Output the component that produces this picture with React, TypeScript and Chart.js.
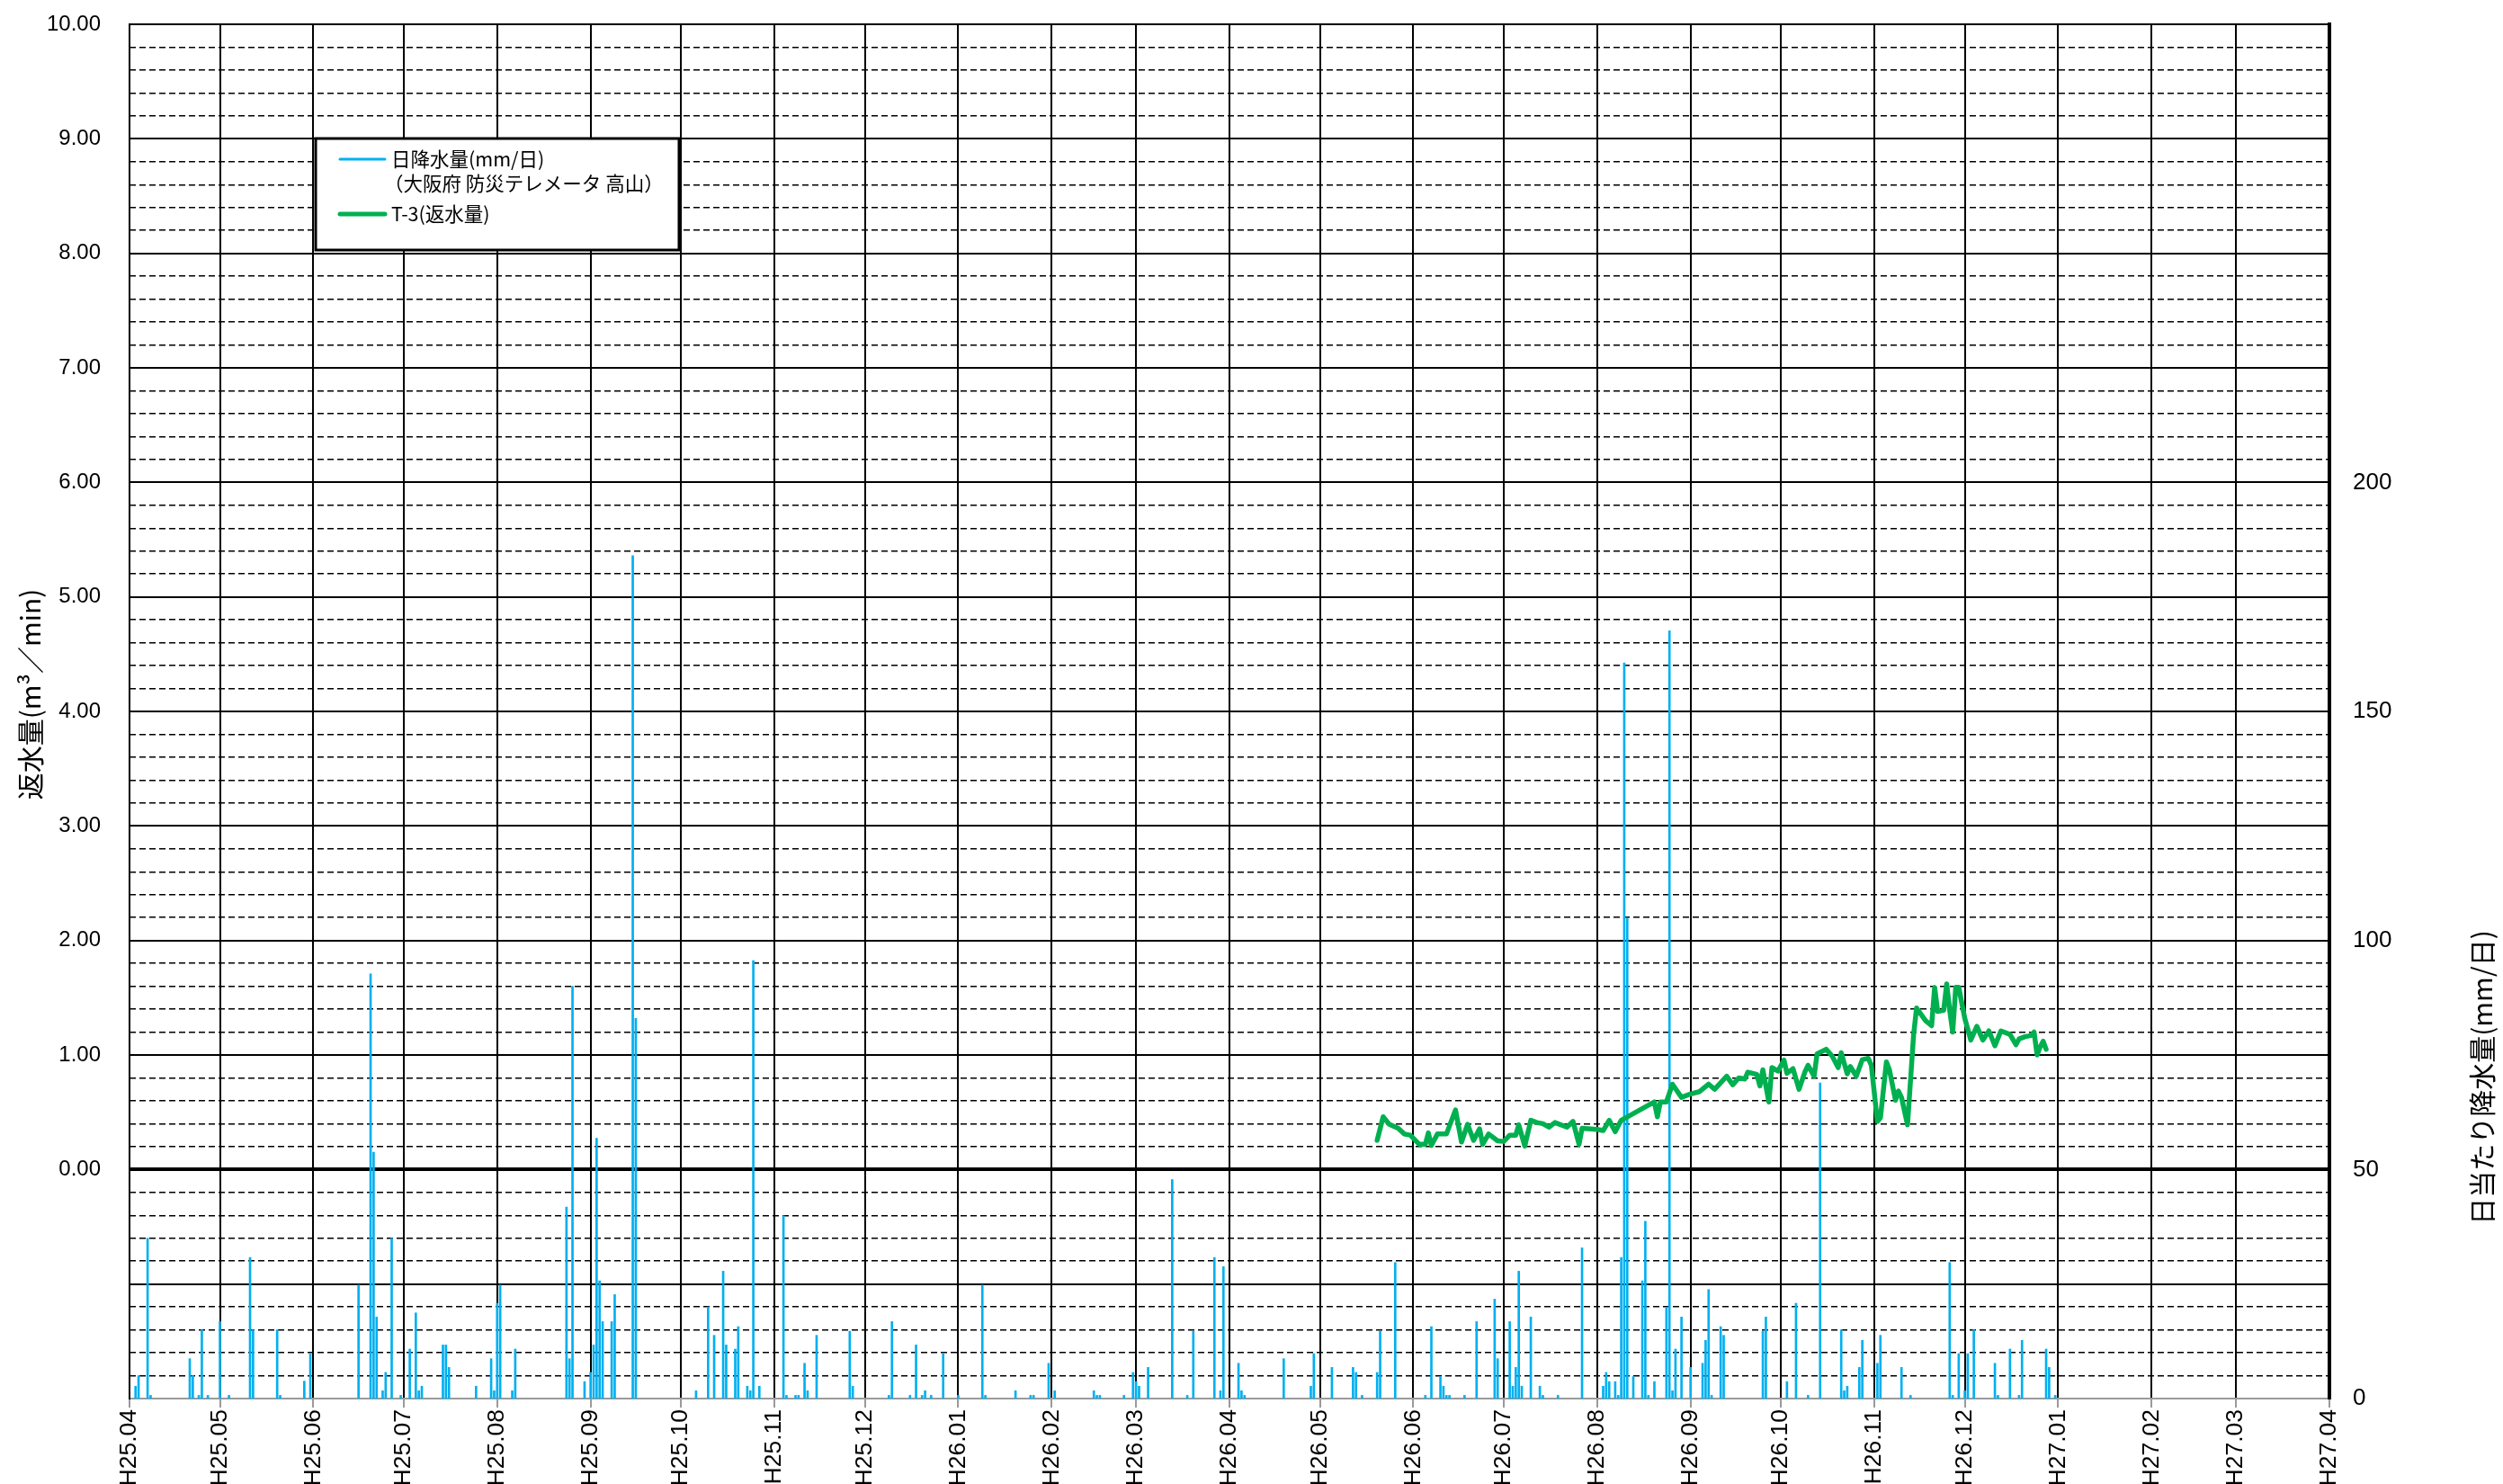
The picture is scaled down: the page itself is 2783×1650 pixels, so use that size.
import React, { useEffect, useRef } from 'react';
import { Chart, registerables } from 'chart.js';

Chart.register(...registerables);

// ---- x axis month tick labels (Heisei year . month) ----
const MONTH_LABELS = [
  'H25.04', 'H25.05', 'H25.06', 'H25.07', 'H25.08', 'H25.09', 'H25.10', 'H25.11', 'H25.12',
  'H26.01', 'H26.02', 'H26.03', 'H26.04', 'H26.05', 'H26.06', 'H26.07', 'H26.08', 'H26.09',
  'H26.10', 'H26.11', 'H26.12', 'H27.01', 'H27.02', 'H27.03', 'H27.04',
];

// ---- left axis labels / right axis labels ----
const LEFT_TICKS = [-2, -1, 0, 1, 2, 3, 4, 5, 6, 7, 8, 9, 10];
const RIGHT_TICKS = [0, 50, 100, 150, 200, 250, 300];

// ---- daily rainfall (mm/day), 大阪府 防災テレメータ 高山 ----
const RAIN_DATES = [
  '2013-04-03', '2013-04-04', '2013-04-07', '2013-04-08', '2013-04-21', '2013-04-22', '2013-04-24', '2013-04-25',
  '2013-04-27', '2013-05-01', '2013-05-04', '2013-05-11', '2013-05-12', '2013-05-20', '2013-05-21', '2013-05-29',
  '2013-05-31', '2013-06-16', '2013-06-20', '2013-06-21', '2013-06-22', '2013-06-24', '2013-06-25', '2013-06-27',
  '2013-06-30', '2013-07-03', '2013-07-05', '2013-07-06', '2013-07-07', '2013-07-14', '2013-07-15', '2013-07-16',
  '2013-07-25', '2013-07-30', '2013-07-31', '2013-08-01', '2013-08-02', '2013-08-06', '2013-08-07', '2013-08-24',
  '2013-08-25', '2013-08-26', '2013-08-30', '2013-09-01', '2013-09-02', '2013-09-03', '2013-09-04', '2013-09-05',
  '2013-09-08', '2013-09-09', '2013-09-15', '2013-09-16', '2013-10-06', '2013-10-10', '2013-10-12', '2013-10-15',
  '2013-10-16', '2013-10-19', '2013-10-20', '2013-10-23', '2013-10-24', '2013-10-25', '2013-10-27', '2013-11-04',
  '2013-11-05', '2013-11-08', '2013-11-09', '2013-11-11', '2013-11-12', '2013-11-15', '2013-11-26', '2013-11-27',
  '2013-12-09', '2013-12-10', '2013-12-16', '2013-12-18', '2013-12-20', '2013-12-21', '2013-12-23', '2013-12-27',
  '2014-01-01', '2014-01-09', '2014-01-10', '2014-01-20', '2014-01-25', '2014-01-26', '2014-01-31', '2014-02-02',
  '2014-02-15', '2014-02-16', '2014-02-17', '2014-02-25', '2014-02-28', '2014-03-01', '2014-03-02', '2014-03-05',
  '2014-03-13', '2014-03-18', '2014-03-20', '2014-03-27', '2014-03-29', '2014-03-30', '2014-04-04', '2014-04-05',
  '2014-04-06', '2014-04-19', '2014-04-28', '2014-04-29', '2014-05-05', '2014-05-12', '2014-05-13', '2014-05-15',
  '2014-05-20', '2014-05-21', '2014-05-26', '2014-06-05', '2014-06-07', '2014-06-10', '2014-06-11', '2014-06-12',
  '2014-06-13', '2014-06-18', '2014-06-22', '2014-06-28', '2014-06-29', '2014-07-03', '2014-07-04', '2014-07-05',
  '2014-07-06', '2014-07-07', '2014-07-10', '2014-07-13', '2014-07-14', '2014-07-19', '2014-07-27', '2014-08-03',
  '2014-08-04', '2014-08-05', '2014-08-07', '2014-08-08', '2014-08-09', '2014-08-10', '2014-08-11', '2014-08-13',
  '2014-08-16', '2014-08-17', '2014-08-18', '2014-08-20', '2014-08-24', '2014-08-25', '2014-08-26', '2014-08-27',
  '2014-08-29', '2014-09-01', '2014-09-05', '2014-09-06', '2014-09-07', '2014-09-08', '2014-09-11', '2014-09-12',
  '2014-09-25', '2014-09-26', '2014-10-03', '2014-10-06', '2014-10-10', '2014-10-14', '2014-10-21', '2014-10-22',
  '2014-10-23', '2014-10-27', '2014-10-28', '2014-11-02', '2014-11-03', '2014-11-10', '2014-11-13', '2014-11-26',
  '2014-11-27', '2014-11-29', '2014-12-01', '2014-12-02', '2014-12-04', '2014-12-11', '2014-12-12', '2014-12-16',
  '2014-12-19', '2014-12-20', '2014-12-28', '2014-12-29', '2014-12-31',
];
const RAIN_MM = [
  2.7, 5, 35, 0.7, 8.7, 5, 0.7, 15,
  0.7, 16.8, 0.7, 30.8, 15, 15, 0.7, 3.8,
  9.8, 24.8, 92.7, 53.8, 17.8, 1.7, 5.7, 35,
  0.7, 10.8, 18.7, 1.7, 2.7, 11.7, 11.7, 6.8,
  2.7, 8.7, 1.7, 20.8, 24.8, 1.7, 10.8, 41.8,
  8.7, 90, 3.7, 5.7, 11.7, 56.8, 25.7, 16.8,
  16.8, 22.7, 184, 83, 1.7, 20, 13.8, 27.8,
  11.7, 10.8, 15.7, 2.7, 1.7, 95.6, 2.7, 39.9,
  0.7, 0.7, 0.7, 7.7, 1.7, 13.8, 14.7, 2.7,
  0.7, 16.8, 0.7, 11.7, 0.7, 1.7, 0.7, 9.8,
  0.7, 24.8, 0.7, 1.7, 0.7, 0.7, 7.7, 1.7,
  1.7, 0.7, 0.7, 0.7, 5.7, 3.7, 2.7, 6.8,
  47.8, 0.7, 14.7, 30.8, 1.7, 28.8, 7.7, 1.7,
  0.7, 8.7, 2.7, 9.8, 6.8, 6.8, 5.7, 0.7,
  5.7, 14.7, 29.7, 0.7, 15.7, 4.8, 2.7, 0.7,
  0.7, 0.7, 16.8, 21.7, 8.7, 16.8, 2.7, 6.8,
  27.8, 2.7, 17.8, 2.7, 0.7, 0.7, 32.9, 2.7,
  5.7, 3.7, 3.7, 0.7, 30.8, 160.6, 104.8, 4.8,
  25.7, 38.7, 0.7, 3.7, 19.8, 167.6, 1.7, 10.8,
  17.8, 6.8, 7.7, 12.7, 23.8, 0.7, 15.7, 13.8,
  14.7, 17.8, 3.7, 20.8, 0.7, 68.9, 15, 1.7,
  2.7, 6.8, 12.7, 7.7, 13.8, 6.8, 0.7, 29.7,
  0.7, 9.8, 1.7, 9.8, 15, 7.7, 0.7, 10.8,
  0.7, 12.7, 10.8, 6.8, 0.7,
];

// ---- T-3 returned water (m3/min) ----
const T3_DATES = [
  '2014-05-20', '2014-05-22', '2014-05-24', '2014-05-27', '2014-05-29', '2014-05-31', '2014-06-03', '2014-06-05',
  '2014-06-06', '2014-06-07', '2014-06-09', '2014-06-12', '2014-06-15', '2014-06-17', '2014-06-19', '2014-06-21',
  '2014-06-23', '2014-06-24', '2014-06-26', '2014-06-29', '2014-07-01', '2014-07-03', '2014-07-05', '2014-07-06',
  '2014-07-08', '2014-07-10', '2014-07-12', '2014-07-14', '2014-07-16', '2014-07-18', '2014-07-22', '2014-07-24',
  '2014-07-26', '2014-07-27', '2014-08-01', '2014-08-03', '2014-08-05', '2014-08-07', '2014-08-09', '2014-08-20',
  '2014-08-21', '2014-08-22', '2014-08-24', '2014-08-26', '2014-08-29', '2014-09-01', '2014-09-04', '2014-09-07',
  '2014-09-09', '2014-09-13', '2014-09-15', '2014-09-17', '2014-09-19', '2014-09-20', '2014-09-23', '2014-09-24',
  '2014-09-25', '2014-09-27', '2014-09-28', '2014-09-30', '2014-10-02', '2014-10-03', '2014-10-05', '2014-10-07',
  '2014-10-09', '2014-10-10', '2014-10-12', '2014-10-13', '2014-10-16', '2014-10-18', '2014-10-20', '2014-10-21',
  '2014-10-23', '2014-10-24', '2014-10-26', '2014-10-28', '2014-10-30', '2014-10-31', '2014-11-02', '2014-11-03',
  '2014-11-05', '2014-11-06', '2014-11-08', '2014-11-09', '2014-11-10', '2014-11-12', '2014-11-14', '2014-11-15',
  '2014-11-18', '2014-11-20', '2014-11-21', '2014-11-22', '2014-11-24', '2014-11-25', '2014-11-26', '2014-11-27',
  '2014-11-28', '2014-11-29', '2014-12-01', '2014-12-03', '2014-12-05', '2014-12-07', '2014-12-09', '2014-12-11',
  '2014-12-13', '2014-12-16', '2014-12-18', '2014-12-19', '2014-12-21', '2014-12-23', '2014-12-24', '2014-12-25',
  '2014-12-26', '2014-12-27', '2014-12-28',
];
const T3_FLOW = [
  0.255, 0.46, 0.395, 0.36, 0.31, 0.30, 0.22, 0.22,
  0.32, 0.21, 0.31, 0.31, 0.52, 0.24, 0.395, 0.255,
  0.355, 0.22, 0.31, 0.25, 0.245, 0.30, 0.30, 0.39,
  0.205, 0.43, 0.41, 0.40, 0.37, 0.41, 0.37, 0.42,
  0.22, 0.36, 0.35, 0.34, 0.43, 0.33, 0.43, 0.59,
  0.46, 0.59, 0.59, 0.745, 0.63, 0.66, 0.68, 0.745,
  0.70, 0.815, 0.74, 0.80, 0.79, 0.85, 0.83, 0.73,
  0.87, 0.59, 0.89, 0.86, 0.955, 0.84, 0.88, 0.70,
  0.855, 0.91, 0.815, 1.01, 1.05, 0.99, 0.89, 1.02,
  0.835, 0.90, 0.815, 0.96, 0.97, 0.91, 0.42, 0.45,
  0.94, 0.87, 0.605, 0.685, 0.63, 0.39, 1.17, 1.41,
  1.30, 1.255, 1.59, 1.38, 1.39, 1.62, 1.39, 1.20,
  1.59, 1.59, 1.32, 1.13, 1.25, 1.13, 1.21, 1.08,
  1.21, 1.18, 1.09, 1.14, 1.16, 1.17, 1.20, 1.00,
  1.07, 1.12, 1.05,
];

const LEGEND_RAIN = ['日降水量(mm/日)', '（大阪府 防災テレメータ 高山）'];
const LEGEND_T3 = 'T-3(返水量)';
const TITLE_LEFT = '返水量(m³／min)';
const TITLE_RIGHT = '日当たり降水量(mm/日)';

// ---- helpers ----
const BASE = Date.UTC(2013, 3, 1);
const dayOf = (s: string) => {
  const [y, m, d] = s.split('-').map(Number);
  return (Date.UTC(y, m - 1, d) - BASE) / 86400000;
};
const dayOfLabel = (lab: string) => {
  const h = Number(lab.slice(1, 3));
  const m = Number(lab.slice(4, 6));
  return (Date.UTC(1988 + h, m - 1, 1) - BASE) / 86400000;
};
const MONTH_DAYS = MONTH_LABELS.map(dayOfLabel);
const MINOR_TICKS: number[] = [];
for (let i = 0; i <= 60; i++) MINOR_TICKS.push(Math.round((-2 + i * 0.2) * 10) / 10);

const W = 2783;
const H = 1650;
const BLUE = '#00B0F0';
const GREEN = '#00B050';
const CJK = "'Noto Sans CJK JP', 'Noto Sans', sans-serif";
const LATIN = "'Liberation Sans', Arial, sans-serif";

const decorPlugin = {
  id: 'decor',
  afterDraw(chart: any) {
    const ctx = chart.ctx as CanvasRenderingContext2D;
    ctx.save();
    // Legend box
    ctx.fillStyle = '#ffffff';
    ctx.fillRect(351, 154, 404, 124);
    ctx.lineWidth = 3;
    ctx.strokeStyle = '#000000';
    ctx.strokeRect(351, 154, 404, 124);
    ctx.lineCap = 'round';
    ctx.strokeStyle = BLUE;
    ctx.lineWidth = 3;
    ctx.beginPath();
    ctx.moveTo(378, 177);
    ctx.lineTo(428, 177);
    ctx.stroke();
    ctx.strokeStyle = GREEN;
    ctx.lineWidth = 5;
    ctx.beginPath();
    ctx.moveTo(378, 238);
    ctx.lineTo(428, 238);
    ctx.stroke();
    ctx.fillStyle = '#000000';
    ctx.font = `21.5px ${CJK}`;
    ctx.textAlign = 'left';
    ctx.textBaseline = 'middle';
    ctx.fillText(LEGEND_RAIN[0], 435, 177);
    ctx.fillText(LEGEND_RAIN[1], 427, 204);
    ctx.fillText(LEGEND_T3, 435, 238);

    // Axis titles
    ctx.font = `30px ${CJK}`;
    ctx.textAlign = 'center';
    ctx.textBaseline = 'middle';
    ctx.save();
    ctx.translate(34, 772);
    ctx.rotate(-Math.PI / 2);
    ctx.fillText(TITLE_LEFT, 0, 0);
    ctx.restore();
    ctx.save();
    ctx.translate(2760, 1198);
    ctx.rotate(-Math.PI / 2);
    ctx.fillText(TITLE_RIGHT, 0, 0);
    ctx.restore();
    ctx.restore();
  },
};

const isInt = (v: number) => Math.abs(v - Math.round(v)) < 1e-6;

const noVPad = (axis: any) => {
  axis.paddingTop = 0;
  axis.paddingBottom = 0;
};

export default function App() {
  const ref = useRef<HTMLCanvasElement>(null);

  useEffect(() => {
    document.body.style.margin = '0';
    const canvas = ref.current;
    if (!canvas) return;

    const rainData = RAIN_DATES.map((d, i) => ({ x: dayOf(d), y: RAIN_MM[i] }));
    const t3Data = T3_DATES.map((d, i) => ({ x: dayOf(d), y: T3_FLOW[i] }));

    const chart = new Chart(canvas, {
      type: 'bar',
      data: {
        datasets: [
          {
            type: 'line',
            label: LEGEND_T3,
            data: t3Data as any,
            xAxisID: 'x',
            yAxisID: 'y',
            borderColor: GREEN,
            backgroundColor: GREEN,
            borderWidth: 5.5,
            pointRadius: 0,
            tension: 0,
            borderJoinStyle: 'round',
            borderCapStyle: 'round',
            order: 0,
          } as any,
          {
            type: 'bar',
            label: LEGEND_RAIN[0],
            data: rainData as any,
            xAxisID: 'x',
            yAxisID: 'y2',
            backgroundColor: BLUE,
            borderWidth: 0,
            barThickness: 2,
            order: 1,
          } as any,
        ],
      },
      options: {
        responsive: false,
        animation: false,
        devicePixelRatio: 1,
        layout: { padding: { top: 27, left: 0, right: 0, bottom: 0 } },
        plugins: {
          legend: { display: false },
          tooltip: { enabled: false },
          title: { display: false },
        },
        scales: {
          x: {
            type: 'linear',
            position: 'bottom',
            min: 0,
            max: MONTH_DAYS[MONTH_DAYS.length - 1],
            offset: false,
            afterBuildTicks: (axis: any) => {
              axis.ticks = MONTH_DAYS.map((v) => ({ value: v }));
            },
            afterFit: (axis: any) => {
              axis.height = H - 1555;
              axis.paddingLeft = 0;
              axis.paddingRight = 0;
            },
            ticks: {
              autoSkip: false,
              minRotation: 90,
              maxRotation: 90,
              padding: 2,
              color: '#000000',
              font: { family: LATIN, size: 26.5 },
              callback: (_v: any, i: number) => MONTH_LABELS[i],
            },
            grid: {
              offset: false,
              color: '#000000',
              lineWidth: 2,
              drawTicks: true,
              tickLength: 10,
              tickColor: '#9a9a9a',
              tickWidth: 2,
            },
            border: { display: true, color: '#9a9a9a', width: 2 },
          } as any,
          yMinor: {
            type: 'linear',
            position: 'left',
            min: -2,
            max: 10,
            afterBuildTicks: (axis: any) => {
              axis.ticks = MINOR_TICKS.map((v) => ({ value: v }));
            },
            afterFit: (axis: any) => {
              axis.width = 0;
              noVPad(axis);
            },
            ticks: { display: false, autoSkip: false },
            grid: {
              color: (c: any) => (c.tick && !isInt(c.tick.value) ? '#000000' : 'rgba(0,0,0,0)'),
              lineWidth: 1.5,
              drawTicks: false,
            },
            border: { display: false, dash: [7, 4] },
          } as any,
          y: {
            type: 'linear',
            position: 'left',
            min: -2,
            max: 10,
            afterBuildTicks: (axis: any) => {
              axis.ticks = LEFT_TICKS.map((v) => ({ value: v }));
            },
            afterFit: (axis: any) => {
              axis.width = 144;
              noVPad(axis);
            },
            ticks: {
              autoSkip: false,
              padding: 32,
              color: '#000000',
              font: { family: LATIN, size: 24 },
              callback: (v: any) => (Number(v) >= 0 ? Number(v).toFixed(2) : ''),
            },
            grid: {
              color: (c: any) => (c.tick && c.tick.value === -2 ? 'rgba(0,0,0,0)' : '#000000'),
              lineWidth: (c: any) => (c.tick && c.tick.value === 0 ? 4 : 2),
              drawTicks: false,
            },
            border: { display: true, color: '#000000', width: 2 },
          } as any,
          y2: {
            type: 'linear',
            position: 'right',
            min: 0,
            max: 300,
            afterBuildTicks: (axis: any) => {
              axis.ticks = RIGHT_TICKS.map((v) => ({ value: v }));
            },
            afterFit: (axis: any) => {
              axis.width = W - 2590;
              noVPad(axis);
            },
            ticks: {
              autoSkip: false,
              padding: 26,
              color: '#000000',
              font: { family: LATIN, size: 26 },
              callback: (v: any) => (Number(v) <= 200 ? String(v) : ''),
            },
            grid: { display: false, drawTicks: false },
            border: { display: true, color: '#000000', width: 4 },
          } as any,
        },
      } as any,
      plugins: [decorPlugin],
    });

    return () => chart.destroy();
  }, []);

  return (
    <canvas
      ref={ref}
      width={W}
      height={H}
      style={{ display: 'block', width: `${W}px`, height: `${H}px` }}
    />
  );
}
